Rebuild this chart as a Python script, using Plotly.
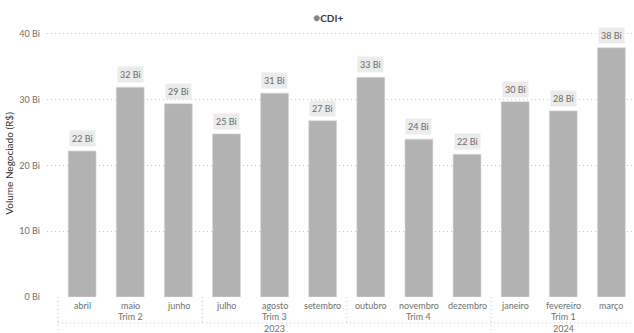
import plotly.graph_objects as go

# Monthly traded volume, in billions of R$
months = ["abril", "maio", "junho", "julho", "agosto", "setembro",
          "outubro", "novembro", "dezembro", "janeiro", "fevereiro", "março"]
quarters = ["Trim 2", "Trim 3", "Trim 4", "Trim 1"]
years = ["2023", "2024"]
volume_bi = [22.2, 31.9, 29.4, 24.8, 31.0, 26.8, 33.4, 24.0, 21.7, 29.7, 28.3, 37.9]
y_ticks = [0, 10, 20, 30, 40]
series_name = "CDI+"

FONT = "Lato, 'Open Sans', sans-serif"
BAR = "#b2b2b2"
TICK = "#6f6f6f"
GRID = "#c4c4c4"
DOTS = "1px,3px"

TOP, BOTTOM = 30, 36
plot_h = 333 - TOP - BOTTOM


def px_below(p):
    """Paper y coordinate for a point p pixels below the plot area."""
    return -p / plot_h


x = list(range(len(months)))

fig = go.Figure()
fig.add_trace(go.Bar(
    x=x, y=volume_bi, name=series_name,
    marker=dict(color=BAR, line=dict(color="#d8d8d8", width=0.6)),
    width=0.58, showlegend=False, hoverinfo="y",
))

annotations = []
# legend: round marker plus bold series name
annotations.append(dict(
    x=(328 - 47) / 587, y=1 + (TOP - 18) / plot_h, xref="paper", yref="paper",
    showarrow=False,
    text=f"<span style='color:#858585;font-size:12px'>●</span><b>{series_name}</b>",
    font=dict(family=FONT, size=10, color="#3a3a3a"), xanchor="center", yanchor="middle",
))

# value labels above each bar
for xi, v in zip(x, volume_bi):
    annotations.append(dict(
        x=xi, y=v, xref="x", yref="y", text=f"{round(v)} Bi", showarrow=False,
        yanchor="bottom", yshift=4, font=dict(family=FONT, size=9, color="#6a6a6a"),
        bgcolor="#ebebeb", borderpad=2,
    ))

# month, quarter and year rows beneath the axis
for xi, m in zip(x, months):
    annotations.append(dict(x=xi, y=px_below(8), xref="x", yref="paper",
                            text=m, showarrow=False, yanchor="middle",
                            font=dict(family=FONT, size=9, color=TICK)))
quarter_groups = [(0, 2), (3, 5), (6, 8), (9, 11)]
for (a, b), q in zip(quarter_groups, quarters):
    annotations.append(dict(x=(a + b) / 2, y=px_below(19), xref="x", yref="paper",
                            text=q, showarrow=False, yanchor="middle",
                            font=dict(family=FONT, size=9, color=TICK)))
year_groups = [(0, 8), (9, 11)]
for (a, b), yr in zip(year_groups, years):
    annotations.append(dict(x=(a + b) / 2, y=px_below(31.5), xref="x", yref="paper",
                            text=yr, showarrow=False, yanchor="middle",
                            font=dict(family=FONT, size=9, color=TICK)))

shapes = []
line_style = dict(color=GRID, width=1, dash=DOTS)
# quarter and year dividers
for b in [-0.5, 2.5, 5.5, 8.5]:
    depth = 36 if b in (-0.5, 8.5) else 26
    shapes.append(dict(type="line", xref="x", yref="paper", x0=b, x1=b,
                       y0=0, y1=px_below(depth), line=line_style))
# line between quarter and year rows
shapes.append(dict(type="line", xref="x", yref="paper", x0=-0.5, x1=11.6,
                   y0=px_below(26), y1=px_below(26), line=line_style))

fig.update_layout(
    width=634, height=333,
    margin=dict(l=47, r=0, t=TOP, b=BOTTOM),
    paper_bgcolor="white", plot_bgcolor="white",
    bargap=0.42,
    font=dict(family=FONT, size=9, color=TICK),
    showlegend=False,
    xaxis=dict(range=[-0.73, 11.47], showticklabels=False, showgrid=False,
               zeroline=False, showline=False, fixedrange=True),
    yaxis=dict(range=[0, 40.6], tickvals=y_ticks,
               ticktext=[f"{t} Bi" for t in y_ticks],
               showgrid=True, gridcolor=GRID, griddash=DOTS, gridwidth=1,
               zeroline=False, showline=False, ticks="", ticklabelstandoff=6,
               tickfont=dict(family=FONT, size=9, color=TICK),
               title=dict(text="Volume Negociado (R$)", standoff=3,
                          font=dict(family=FONT, size=10, color="#333333"))),
    annotations=annotations,
    shapes=shapes,
)

fig.write_html("out.html")
